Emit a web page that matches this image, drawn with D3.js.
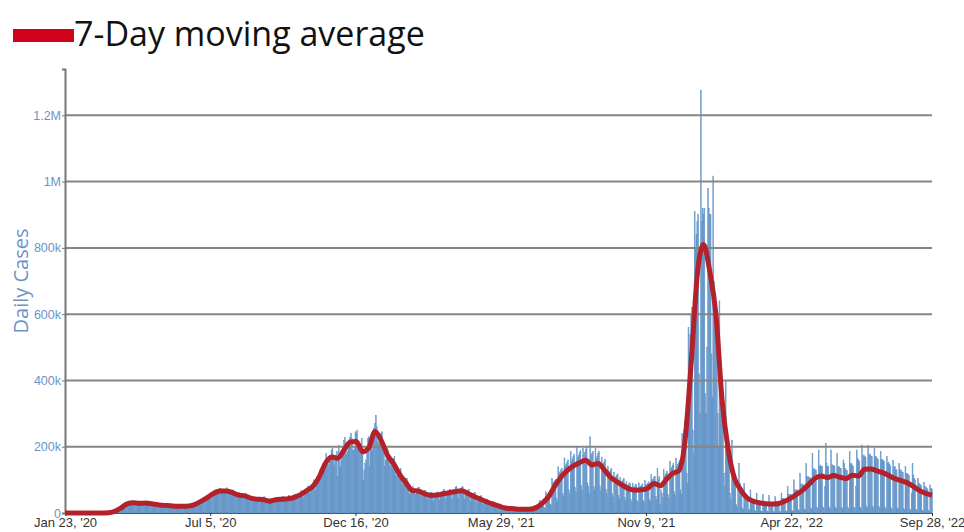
<!DOCTYPE html>
<html>
<head>
<meta charset="utf-8">
<script src="https://cdn.jsdelivr.net/npm/d3@7"></script>
<style>
  body { margin: 0; background: #fff; }
  svg { display: block; }
</style>
</head>
<body>
<svg id="chart" width="964" height="532"></svg>
<script>
// first and last day shown
var startDay = "2020-01-23",
    endDay = "2022-09-28";

var xTickDays = ["2020-01-23", "2020-07-05", "2020-12-16", "2021-05-29", "2021-11-09", "2022-04-22", "2022-09-28"];
var xTickLabels = ["Jan 23, '20", "Jul 5, '20", "Dec 16, '20", "May 29, '21", "Nov 9, '21", "Apr 22, '22", "Sep 28, '22"];
var yTickValues = [0, 200000, 400000, 600000, 800000, 1000000, 1200000];

// daily cases in thousands, one row per week (Mon..Sun), first row starts Thu Jan 23 2020
var dailyCasesK = [
  0,0,0,0,
  0,0,0,0,0,0,0,
  0,0,0,0,0,0,0,
  0,0,0,0,0,0,0,
  0,0,0,0,0,0,0,
  0,0,0,0,0,0,0,
  0,0.1,0.1,0.1,0.2,0.2,0.2,
  0.3,0.4,0.5,0.6,0.8,1.0,1.2,
  1.8,2.6,3.8,5.2,6.5,7.5,8.2,
  10,11,12,14,17,19,19,
  22,25,26,29,31,33,27,
  28,30,32,33,35,33,27,
  26,27,29,31,32,33,27,
  25,28,29,33,36,32,26,
  24,25,27,29,32,30,26,
  22,23,25,27,29,26,21,
  19,21,22,25,27,24,20,
  20,21,22,24,25,24,19,
  18,18,20,21,24,23,19,
  18,19,20,22,24,22,17,
  18,19,21,22,24,25,19,
  19,22,24,27,31,32,26,
  27,31,35,38,43,42,35,
  39,44,49,54,56,45,42,
  47,58,59,62,70,63,58,
  59,63,68,75,73,66,60,
  61,64,70,71,76,66,56,
  56,62,66,67,70,60,50,
  47,53,55,58,62,56,46,
  48,51,55,54,60,52,42,
  37,44,46,48,50,48,40,
  36,39,42,45,47,45,38,
  34,40,39,43,50,44,33,
  28,26,33,38,44,42,33,
  33,36,39,44,47,43,37,
  36,39,40,45,50,46,35,
  35,38,41,46,53,49,37,
  39,43,50,55,57,48,40,
  44,51,59,64,68,55,46,
  57,60,62,75,80,80,60,
  67,74,80,90,100,86,68,
  85,90,104,120,130,125,106,
  120,135,145,160,180,168,140,
  148,160,170,190,195,175,145,
  170,175,185,110,205,155,140,
  160,180,200,218,228,210,175,
  185,210,222,228,240,225,190,
  190,200,245,240,250,200,190,
  195,200,225,195,100,130,150,
  160,195,225,230,140,220,210,
  190,235,255,270,295,260,215,
  210,225,230,240,245,200,180,
  140,160,185,195,190,175,140,
  150,150,155,165,170,140,110,
  115,120,125,130,135,105,85,
  90,95,95,105,105,85,65,
  55,60,70,72,80,70,55,
  55,68,73,77,78,60,50,
  52,58,65,68,68,58,40,
  48,55,58,62,62,50,35,
  48,52,56,62,64,52,38,
  52,54,60,66,72,60,42,
  60,60,66,70,72,55,40,
  62,60,70,78,80,62,44,
  64,68,74,78,80,60,42,
  58,58,66,68,72,55,35,
  50,50,56,58,62,44,30,
  40,42,48,50,52,38,25,
  34,34,38,40,42,30,20,
  27,26,30,32,34,24,16,
  22,22,24,25,27,18,12,
  6,16,18,20,20,12,9,
  12,14,16,17,18,10,7,
  11,12,14,15,14,7,5,
  11,12,13,14,15,6,5,
  13,13,14,16,14,5,4,
  5,22,20,22,24,10,8,
  38,32,34,36,38,16,13,
  64,54,57,59,62,27,22,
  105,89,93,97,101,45,36,
  140,119,124,130,135,59,49,
  166,140,147,153,160,70,57,
  185,156,163,170,178,78,64,
  197,167,174,182,190,83,68,
  195,175,183,191,199,90,80,
  60,230,175,180,185,80,70,
  195,165,172,180,187,82,67,
  169,143,149,156,162,71,58,
  140,119,124,130,135,59,48,
  123,104,109,114,118,52,42,
  108,91,95,100,104,46,37,
  95,80,84,88,91,40,33,
  90,76,79,83,86,38,31,
  91,77,80,84,88,39,32,
  98,83,86,90,94,41,34,
  116,98,102,107,111,49,40,
  135,100,110,25,70,60,45,
  131,111,116,121,126,56,45,
  155,131,137,143,149,65,54,
  165,140,146,152,159,70,57,
  240,220,250,280,240,120,90,
  560,480,540,600,620,250,180,
  910,800,840,880,900,420,300,
  1276,880,920,900,920,360,300,
  500,980,920,900,900,480,350,
  1017,700,660,620,600,300,200,
  640,420,380,340,320,120,80,
  400,250,220,200,190,60,40,
  220,130,120,110,100,25,18,
  70,150,90,80,75,15,10,
  90,60,55,52,50,10,7,
  70,45,42,40,40,7,5,
  60,38,36,34,36,6,4,
  55,34,33,31,32,5,4,
  52,33,33,31,32,5,3,
  50,36,34,32,34,5,3,
  60,44,44,42,42,6,4,
  80,55,55,52,55,8,5,
  100,70,70,68,70,10,7,
  120,85,88,84,85,12,9,
  150,108,110,105,108,15,10,
  180,130,135,130,130,18,12,
  190,140,145,140,140,18,13,
  80,210,150,140,140,18,12,
  190,145,145,140,142,17,12,
  180,138,140,135,135,16,12,
  160,150,135,130,128,16,11,
  185,148,150,145,140,18,13,
  80,190,165,160,155,18,13,
  205,170,175,170,168,20,14,
  205,175,178,172,170,20,14,
  195,168,170,165,162,19,13,
  185,160,162,158,155,18,12,
  170,150,152,146,142,16,11,
  158,138,140,132,130,15,10,
  150,130,130,124,122,14,9,
  140,120,120,116,114,12,8,
  60,150,115,105,100,10,7,
  105,90,88,85,82,9,6,
  92,80,78,75,72,8,5,
  85,74,72
];

// 7-day average in thousands, one value per week, plotted on that week's Thursday (first = Jan 23 2020)
var weeklyAvgK = [
  0, 0, 0, 0, 0, 0, 0.1, 0.7, 5, 14.6,
  27.6, 31, 29.5, 29.8, 27.6, 25, 23, 22, 20.5, 20.3,
  21, 26, 36, 47, 59.5, 66.3, 66.3, 61.6, 54, 51.7,
  44.7, 41.7, 40.4, 35.5, 40, 41.6, 43, 47.4, 55.3, 67.7,
  80.7, 108.6, 149.7, 169, 165, 190, 214, 216, 185, 197,
  246, 219, 175, 149, 116, 91, 68, 66, 58, 53,
  54, 58, 61, 65, 67, 59, 50, 42, 34, 27,
  21, 15, 13.4, 11.5, 11, 11.5, 16, 29.6, 49, 81,
  108, 127.6, 142, 151.7, 159, 145, 149.7, 129.7, 108, 94.6,
  83, 73, 69, 70, 75, 89, 82, 101, 119, 127,
  215, 450, 720, 810, 730, 600, 340, 190, 105, 70,
  46, 36, 31, 28, 27, 28, 34.6, 44, 56, 69,
  86.6, 105, 112, 107, 113, 108, 104, 114, 111.6, 132,
  133, 127, 121, 112, 103, 97, 90, 78, 66, 58.6,
  54
];

var svg = d3.select("#chart"),
    margin = {left: 65, right: 32, top: 69, bottom: 19},
    width = +svg.attr("width"),
    height = +svg.attr("height");

var parseDay = d3.utcParse("%Y-%m-%d");
var start = parseDay(startDay),
    end = parseDay(endDay);

var x = d3.scaleUtc()
  .domain([start, end])
  .range([margin.left, width - margin.right]);

var y = d3.scaleLinear()
  .domain([0, d3.max(dailyCasesK) * 1000 * 1.05])
  .range([height - margin.bottom, margin.top]);

var bars = dailyCasesK.map(function(v, i) {
  return {date: d3.utcDay.offset(start, i), value: v * 1000};
});
var avg = weeklyAvgK.map(function(v, i) {
  var d = d3.utcDay.offset(start, i * 7);
  return {date: d > end ? end : d, value: v * 1000};
});

var barW = x(d3.utcDay.offset(start, 1)) - x(start);

// bars
svg.append("g")
  .selectAll("rect")
  .data(bars)
  .enter().append("rect")
  .attr("x", function(d) { return x(d.date) - barW / 2; })
  .attr("y", function(d) { return y(d.value); })
  .attr("width", barW)
  .attr("height", function(d) { return y(0) - y(d.value); })
  .attr("fill", "#85aed8")
  .attr("stroke", "#5188c0")
  .attr("stroke-width", 0.45);

// grid lines sit over the bars
svg.append("g")
  .selectAll("line")
  .data(yTickValues.filter(function(v) { return v > 0; }))
  .enter().append("line")
  .attr("x1", margin.left)
  .attr("x2", width - margin.right)
  .attr("y1", function(d) { return y(d); })
  .attr("y2", function(d) { return y(d); })
  .attr("stroke", "#858585")
  .attr("stroke-width", 2);

// y axis
var yAxis = svg.append("g")
  .attr("transform", "translate(" + margin.left + ",0)")
  .call(d3.axisLeft(y)
    .tickValues(yTickValues)
    .tickFormat(d3.format("~s"))
    .tickSize(3)
    .tickPadding(1));
yAxis.select(".domain").attr("stroke", "#777").attr("stroke-width", 2);
yAxis.selectAll(".tick line").attr("stroke", "#777");
yAxis.selectAll("text")
  .attr("fill", "#6b93c7")
  .style("font-family", "'Liberation Sans', Arial, sans-serif")
  .style("font-size", "12.5px");

// x axis
var xAxis = svg.append("g")
  .attr("transform", "translate(0," + (height - margin.bottom) + ")")
  .call(d3.axisBottom(x)
    .tickValues(xTickDays.map(parseDay))
    .tickFormat(function(d, i) { return xTickLabels[i]; })
    .tickSize(3)
    .tickSizeOuter(0)
    .tickPadding(2));
xAxis.select(".domain").attr("stroke", "#4d5b6a").attr("stroke-width", 1);
xAxis.selectAll(".tick line").attr("stroke", "#333");
xAxis.selectAll("text")
  .attr("fill", "#333")
  .style("font-family", "'Liberation Sans', Arial, sans-serif")
  .style("font-size", "13px");

// 7-day average line
var line = d3.line()
  .x(function(d) { return x(d.date); })
  .y(function(d) { return y(d.value); })
  .curve(d3.curveMonotoneX);

svg.append("path")
  .datum(avg)
  .attr("fill", "none")
  .attr("stroke", "#b3212b")
  .attr("stroke-width", 5)
  .attr("stroke-linejoin", "round")
  .attr("d", line);

// y title
svg.append("text")
  .attr("transform", "translate(28,281) rotate(-90)")
  .attr("text-anchor", "middle")
  .attr("fill", "#6b93c7")
  .style("font-family", "'Open Sans', sans-serif")
  .style("font-size", "20px")
  .text("Daily Cases");

// legend / title
svg.append("rect")
  .attr("x", 13).attr("y", 29)
  .attr("width", 61).attr("height", 13)
  .attr("fill", "#d0021b");
svg.append("text")
  .attr("x", 74).attr("y", 46)
  .attr("fill", "#111")
  .style("font-family", "'Open Sans', sans-serif")
  .style("font-size", "34px")
  .text("7-Day moving average");
</script>
</body>
</html>
